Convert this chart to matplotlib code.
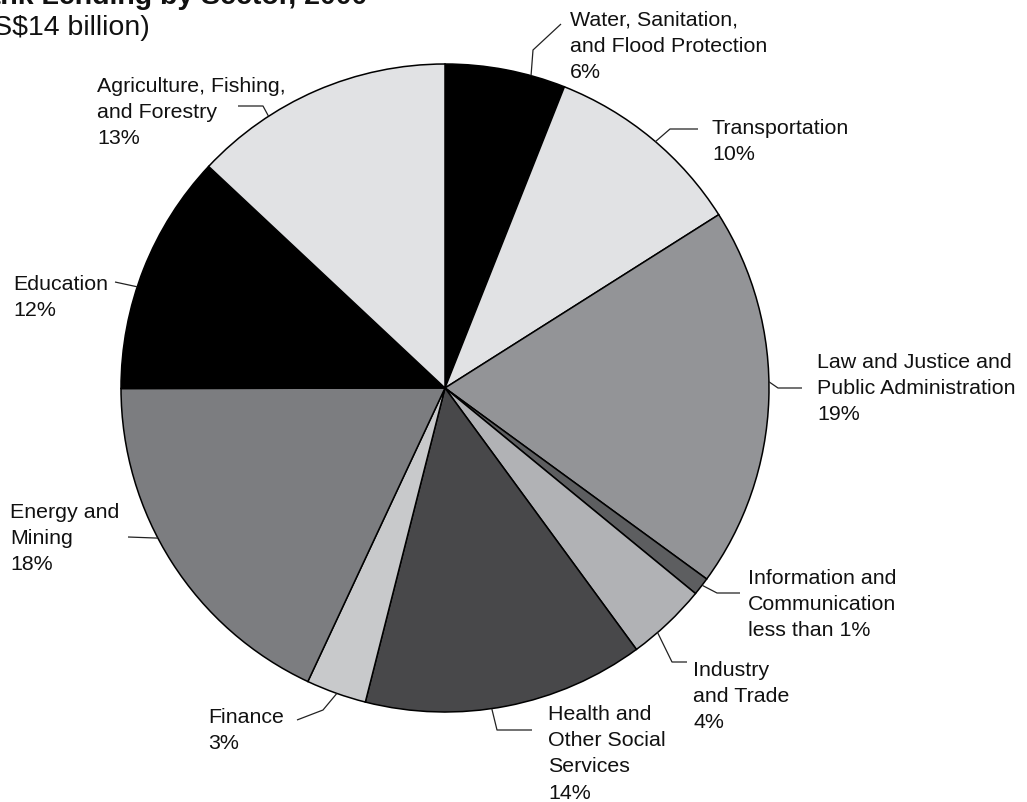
import numpy as np
import matplotlib
matplotlib.use('Agg')
import matplotlib.pyplot as plt

plt.rcParams['font.family'] = ['Liberation Sans', 'DejaVu Sans']

# lending shares by sector, clockwise from the top
sectors = ['Water, Sanitation,\nand Flood Protection', 'Transportation',
           'Law and Justice and\nPublic Administration', 'Information and\nCommunication',
           'Industry\nand Trade', 'Health and\nOther Social\nServices', 'Finance',
           'Energy and\nMining', 'Education', 'Agriculture, Fishing,\nand Forestry']
shares = [6, 10, 19, 0.9, 4, 14, 3, 18, 12, 13]
share_labels = ['6%', '10%', '19%', 'less than 1%', '4%', '14%', '3%', '18%', '12%', '13%']
colores = ['#000000', '#e1e2e4', '#939497', '#5d5e60', '#b1b2b5',
           '#48484a', '#c8c9cb', '#7c7d80', '#000000', '#e1e2e4']

# layout in pixels (y grows downward)
W, H = 1027, 802
cx, cy, R = 445, 388, 324
# angle (deg, clockwise from top) where each leader leaves the pie, elbow/end points, text anchor
leader_deg = [15.4, 40.5, 88.9, 127.5, 139, 171.7, 199.5, 242.4, 288.2, 327]
leader_pts = [[(533, 50), (561, 24)], [(670, 129), (698, 129)], [(778, 388), (802, 388)],
              [(717, 593), (740, 593)], [(672, 662), (687, 662)], [(497, 730), (532, 730)],
              [(323, 710), (297, 720)], [(128, 537)], [(115, 282)], [(263, 106), (238, 106)]]
# top of the first line of each label
text_pos = [(570, 11), (712, 119), (817, 353), (748, 569), (693, 661), (548, 705),
            (208, 708), (10, 503), (13, 275), (97, 77)]

fig = plt.figure(figsize=(W / 100, H / 100), dpi=100)
ax = fig.add_axes([0, 0, 1, 1])

ax.pie(shares, colors=colores, center=(cx, cy), radius=R, startangle=-90, counterclock=True,
       wedgeprops=dict(edgecolor='black', linewidth=1.1))
ax.set_xlim(0, W)
ax.set_ylim(H, 0)
ax.set_aspect('auto')
ax.axis('off')

fs = 15.4
ls = 1.48
for i, nome in enumerate(sectors):
    a = np.radians(leader_deg[i])
    x0, y0 = cx + R * np.sin(a), cy - R * np.cos(a)
    xs = [x0] + [p[0] for p in leader_pts[i]]
    ys = [y0] + [p[1] for p in leader_pts[i]]
    ax.plot(xs, ys, color='#222222', linewidth=0.9, solid_capstyle='butt')

    tx, ty = text_pos[i]
    ax.text(tx, ty, nome + '\n' + share_labels[i], fontsize=fs, va='top',
            ha='left', linespacing=ls, color='#111111')

ax.text(367, 4, 'World Bank Lending by Sector, 2000', fontsize=20.5, fontweight='bold',
        ha='right', va='baseline', color='#111111')
ax.text(150, 35, '(US$14 billion)', fontsize=20.5, ha='right', va='baseline', color='#111111')

plt.savefig('out.png', dpi=100)
plt.close()
